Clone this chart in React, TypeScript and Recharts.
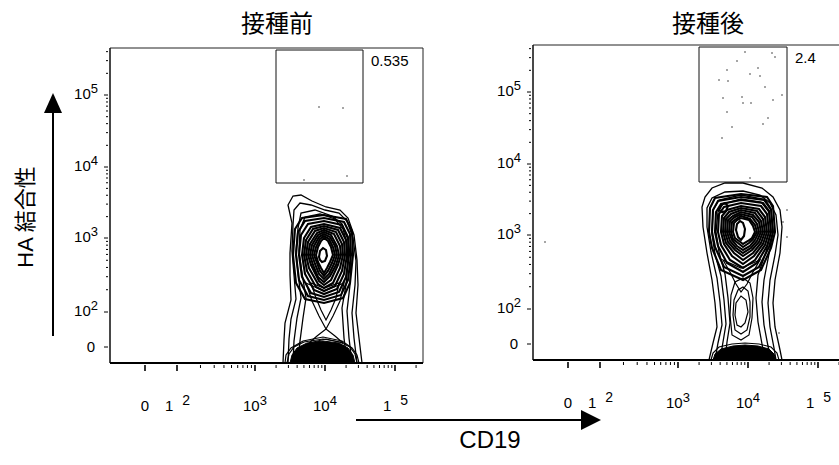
import { ScatterChart, Scatter, XAxis, YAxis, ReferenceArea } from "recharts";

// display channels (biexponential axis, 0..313 wide / 0..315 tall)
const X_DOMAIN = [0, 313];
const Y_DOMAIN = [0, 315];

const panelTitles = ["接種前", "接種後"];
const gatePercents = ["0.535", "2.4"];

// gate rectangles: [x1, x2, y1, y2]
const preGate = [166, 253, 180, 313];
const postGate = [166, 254, 178, 313];

const xMajorTicks = [35, 67, 145, 215, 285];
const xTickBase = ["0", "1", "10", "10", "1"];
const xTickSup = ["", "2", "3", "4", "5"];
const yMajorTicks = [16, 51, 125, 196, 268];
const yTickBase = ["0", "10", "10", "10", "10"];
const yTickSup = ["", "2", "3", "4", "5"];

// 接種前 contours
const preEnvelope = [
  [[173,0],[174,23],[175,40],[181,63],[180,88],[180,110],[182,140],[178,158],[183,167],[191,168],[202,162],[216,156],[230,153],[238,145],[244,128],[247,103],[248,78],[246,50],[249,25],[252,0]],
  [[178,0],[179,24],[181,44],[186,64],[184,88],[182,112],[183,138],[184,153],[190,160],[201,158],[215,153],[229,150],[237,142],[243,125],[246,102],[245,78],[242,50],[244,25],[247,0]],
  [[183,0],[184,22],[187,45],[191,65],[188,90],[186,112],[188,135],[191,150],[205,153],[222,147],[232,139],[238,123],[241,102],[240,78],[237,52],[239,25],[242,0]],
  [[188,0],[190,22],[193,45],[196,65],[192,90],[189,112],[190,133],[195,146],[210,149],[225,144],[233,134],[237,120],[238,100],[236,78],[232,55],[234,25],[237,0]],
];
const preCore = [
  [[183,108],[185,134],[192,145],[214,148],[236,144],[242,132],[243,108],[240,80],[233,65],[214,60],[195,64],[186,80]],
  [[186,108],[188,131],[195,142],[214,145],[234,141],[240,129],[241,108],[238,83],[231,68],[214,63],[198,67],[189,83]],
  [[189,108],[191,128],[198,139],[214,142],[232,138],[238,126],[239,108],[236,86],[229,71],[214,66],[201,70],[192,86]],
  [[192,108],[194,125],[201,136],[214,139],[230,135],[236,123],[237,108],[234,89],[227,74],[214,69],[204,73],[195,89]],
  [[194,108],[196,123],[203,134],[214,137],[228,133],[234,121],[235,108],[232,92],[225,77],[214,72],[206,76],[197,92]],
  [[196,108],[198,121],[205,132],[214,135],[226,131],[232,119],[233,108],[230,95],[223,80],[214,75],[208,79],[199,95]],
  [[198,108],[200,119],[207,130],[214,133],[224,129],[230,117],[231,108],[228,98],[221,83],[214,78],[209,82],[201,98]],
  [[200,108],[202,118],[208,128],[214,131],[221,128],[227,117],[229,108],[226,98],[220,87],[214,81],[208,86],[203,98]],
  [[202,108],[204,117],[209,126],[214,129],[220,126],[225,117],[227,108],[224,99],[219,89],[214,84],[209,89],[205,99]],
  [[204,108],[206,116],[210,124],[214,127],[219,124],[223,116],[225,108],[222,100],[218,92],[214,87],[210,92],[207,100]],
  [[206,108],[208,116],[211,122],[214,125],[218,122],[221,116],[223,108],[220,101],[217,95],[214,90],[211,95],[208,101]],
  [[209,106],[210,112],[213,115],[216,113],[217,107],[215,102],[212,101],[210,103]],
];
const preStalk = [
  [[196,80],[202,62],[209,47],[216,34],[223,47],[230,62],[234,80],[214,72]],
  [[201,80],[206,65],[211,53],[216,43],[221,53],[226,65],[229,80],[214,75]],
  [[199,20],[207,27],[216,34],[225,27],[233,20],[216,24]],
];
const preBaseRings = [
  [[177,0],[179,9],[184,16],[194,21],[213,24],[230,21],[240,16],[245,9],[247,0]],
  [[175,0],[176,8],[181,15],[193,22],[213,26],[232,22],[242,15],[247,8],[249,0]],
];
const preBaseCore = [
  [[180,0],[182,8],[187,15],[197,20],[213,22],[229,20],[238,15],[243,8],[245,0]],
];
const preEvents = [[209,256],[233,255],[194,183],[237,187]];

// 接種後 contours
const postEnvelope = [
  [[176,0],[180,17],[184,33],[182,57],[179,80],[174,107],[170,133],[169,153],[172,163],[179,172],[192,177],[210,177],[229,172],[240,163],[247,150],[249,133],[247,107],[242,80],[240,57],[242,33],[247,10],[249,0]],
  [[182,0],[185,17],[189,35],[187,58],[184,82],[178,108],[174,133],[174,152],[179,162],[192,168],[210,169],[227,165],[237,157],[243,145],[245,125],[242,105],[237,80],[235,57],[237,33],[241,12],[243,0]],
];
const postSides = [
  [[187,0],[190,18],[193,36],[191,60],[188,84],[182,106],[179,126],[180,150],[186,160],[208,165],[230,161],[238,150],[240,128],[236,106],[231,80],[229,58],[231,35],[235,14],[238,0]],
  [[192,0],[194,18],[197,37],[195,62],[192,86],[186,108],[183,128],[185,148],[190,156],[208,161],[228,158],[236,148],[238,128],[233,108],[225,85],[223,62],[225,38],[229,16],[232,0]],
];
const postCore = [
  [[176,128],[177,152],[182,162],[208,166],[234,163],[240,154],[242,128],[238,112],[228,90],[210,80],[188,90],[179,112]],
  [[179,128],[180,150],[185,159],[208,163],[232,160],[238,151],[240,128],[236,113],[226,93],[210,84],[191,93],[182,113]],
  [[182,128],[183,148],[188,156],[208,160],[230,157],[236,149],[238,128],[234,114],[224,97],[210,88],[194,97],[185,114]],
  [[185,128],[186,146],[191,153],[208,157],[228,154],[234,146],[236,128],[232,115],[222,100],[210,92],[197,100],[188,115]],
  [[188,128],[189,144],[194,150],[208,154],[226,151],[232,143],[234,128],[230,116],[221,104],[210,96],[199,104],[191,116]],
  [[190,128],[191,142],[196,148],[208,152],[224,149],[230,141],[232,128],[228,117],[220,107],[210,100],[201,107],[193,117]],
  [[192,128],[193,141],[198,146],[208,150],[222,147],[228,139],[230,128],[226,118],[219,110],[210,104],[202,110],[195,118]],
  [[194,128],[195,140],[200,144],[208,148],[220,145],[226,138],[228,128],[224,119],[218,112],[210,107],[203,112],[197,119]],
  [[196,128],[197,139],[202,143],[208,146],[219,143],[224,136],[226,128],[222,120],[217,114],[210,110],[204,114],[199,120]],
  [[198,128],[199,138],[203,141],[208,144],[217,141],[222,135],[224,128],[220,121],[216,117],[210,113],[205,117],[200,121]],
  [[200,128],[201,137],[204,140],[208,142],[216,140],[220,134],[222,128],[219,122],[215,119],[210,116],[206,119],[202,122]],
  [[203,130],[204,136],[207,139],[210,137],[212,131],[211,124],[208,120],[205,123]],
  [[186,150],[188,155],[192,157],[195,154],[193,149],[189,148]],
];
const postStalk = [
  [[190,100],[197,88],[203,76],[208,68],[214,76],[220,88],[227,100],[208,92]],
  [[199,25],[197,45],[198,65],[202,78],[210,82],[217,77],[220,62],[219,42],[216,25],[208,20]],
  [[202,30],[200,45],[201,60],[205,70],[210,73],[215,69],[217,58],[217,43],[214,30],[208,26]],
  [[204,35],[202,45],[203,57],[208,64],[213,60],[215,48],[212,37],[208,33]],
];
const postBaseRings = [
  [[178,0],[180,7],[186,13],[199,16],[212,17],[226,16],[238,13],[244,7],[246,0]],
];
const postBaseCore = [
  [[180,0],[182,6],[188,11],[200,14],[212,15],[225,14],[236,11],[241,6],[243,0]],
];
const postEvents = [
  [212,308],[239,307],[204,299],[242,303],[194,290],[217,286],[225,292],[227,284],
  [186,280],[195,279],[232,273],[190,262],[209,263],[210,257],[218,257],[240,260],
  [249,265],[235,242],[230,236],[199,233],[189,222],[217,182],[194,248],
  [254,150],[254,123],[246,27],[250,138],[12,118],
];

const LOG_STEPS = [2, 3, 4, 5, 6, 7, 8, 9];
function withMinor(majors: number[], max: number) {
  const out = [...majors];
  for (let i = 1; i < majors.length; i++) {
    const a = majors[i];
    const b = i + 1 < majors.length ? majors[i + 1] : a + (a - majors[i - 1]);
    LOG_STEPS.forEach((m) => {
      const v = a + Math.log10(m) * (b - a);
      if (v < max) out.push(v);
    });
  }
  return out.sort((p, q) => p - q);
}
const xTicks = withMinor(xMajorTicks, X_DOMAIN[1]);
const yTicks = withMinor(yMajorTicks, Y_DOMAIN[1]);

const SANS = "'Liberation Sans', Arial, sans-serif";
const CJK = "'Noto Sans CJK JP', sans-serif";

function XTick({ x, y, payload }: any) {
  const i = xMajorTicks.indexOf(payload.value);
  const major = i >= 0;
  let label = null;
  if (major) {
    const base = xTickBase[i];
    const sup = xTickSup[i];
    if (!sup) {
      label = <text x={x} y={y + 46} textAnchor="middle" fontSize={15} fontFamily={SANS}>{base}</text>;
    } else if (base === "1") {
      label = (
        <text x={x - 12} y={y + 46} fontSize={15} fontFamily={SANS}>
          1<tspan dx={9} dy={-6} fontSize={14}>{sup}</tspan>
        </text>
      );
    } else {
      label = (
        <text x={x} y={y + 46} textAnchor="middle" fontSize={15} fontFamily={SANS}>
          10<tspan dy={-6} fontSize={13}>{sup}</tspan>
        </text>
      );
    }
  }
  return (
    <g>
      <line x1={x} x2={x} y1={y} y2={y + (major ? 6 : 3)} stroke="#000" strokeWidth={major ? 1.6 : 1} />
      {label}
    </g>
  );
}

function YTick({ x, y, payload }: any) {
  const i = yMajorTicks.indexOf(payload.value);
  const major = i >= 0;
  let label = null;
  if (major) {
    const sup = yTickSup[i];
    label = sup ? (
      <text x={x - 10} y={y + 4} textAnchor="end" fontSize={15} fontFamily={SANS}>
        {yTickBase[i]}<tspan dy={-6} fontSize={13}>{sup}</tspan>
      </text>
    ) : (
      <text x={x - 13} y={y + 5} textAnchor="end" fontSize={15} fontFamily={SANS}>{yTickBase[i]}</text>
    );
  }
  return (
    <g>
      <line x1={x} x2={x - (major ? 4 : 2)} y1={y} y2={y} stroke="#000" strokeWidth={1} />
      {label}
    </g>
  );
}

const NoDot = () => <g />;
const EventDot = (p: any) => <circle cx={p.cx} cy={p.cy} r={0.75} fill="#222" />;

const pts = (c: number[][]) => c.map(([x, y]) => ({ x, y }));

type Layer = { rings: number[][][]; width: number; filled?: boolean };

type PanelProps = {
  width: number;
  margin: { top: number; right: number; bottom: number; left: number };
  layers: Layer[];
  events: number[][];
  gate: number[];
  percent: string;
};

function Panel({ width, margin, layers, events, gate, percent }: PanelProps) {
  return (
    <div style={{ position: "absolute", left: 0, top: 0 }}>
      <ScatterChart width={width} height={465} margin={margin}>
        <XAxis
          type="number"
          dataKey="x"
          domain={X_DOMAIN}
          ticks={xTicks}
          interval={0}
          tick={XTick}
          tickLine={false}
          tickSize={0}
          axisLine={{ stroke: "#000", strokeWidth: 2 }}
          height={60}
          allowDataOverflow
        />
        <YAxis
          type="number"
          dataKey="y"
          domain={Y_DOMAIN}
          ticks={yTicks}
          interval={0}
          tick={YTick}
          tickLine={false}
          tickSize={0}
          axisLine={{ stroke: "#000", strokeWidth: 1 }}
          width={110}
          allowDataOverflow
        />
        <ReferenceArea x1={X_DOMAIN[0]} x2={X_DOMAIN[1]} y1={Y_DOMAIN[0]} y2={Y_DOMAIN[1]} fill="none" stroke="#222" strokeWidth={1} />
        <ReferenceArea
          x1={gate[0]}
          x2={gate[1]}
          y1={gate[2]}
          y2={gate[3]}
          fill="none"
          stroke="#111"
          strokeWidth={1}
          label={{
            content: (p: any) => (
              <text x={p.viewBox.x + p.viewBox.width + 8} y={p.viewBox.y + 16} fontSize={15} fontFamily={SANS}>
                {percent}
              </text>
            ),
          }}
        />
        {layers.map((layer, li) =>
          layer.rings.map((c, i) => (
            <Scatter
              key={`${li}-${i}`}
              data={pts(c)}
              fill="#000"
              line={
                layer.filled
                  ? { stroke: "#000", strokeWidth: layer.width, fill: "#000" }
                  : { stroke: "#000", strokeWidth: layer.width }
              }
              lineJointType="linearClosed"
              shape={NoDot}
              isAnimationActive={false}
            />
          ))
        )}
        <Scatter data={pts(events)} fill="#000" shape={EventDot} isAnimationActive={false} />
      </ScatterChart>
    </div>
  );
}

export default function App() {
  return (
    <div style={{ position: "absolute", left: 0, top: 0, width: 839, height: 465, overflow: "hidden", background: "#fff" }}>
      <Panel
        width={839}
        margin={{ top: 48, right: 416, bottom: 42, left: 0 }}
        layers={[
          { rings: preEnvelope, width: 1.3 },
          { rings: preStalk, width: 1.2 },
          { rings: preCore, width: 2.1 },
          { rings: preBaseRings, width: 1.2 },
          { rings: preBaseCore, width: 1, filled: true },
        ]}
        events={preEvents}
        gate={preGate}
        percent={gatePercents[0]}
      />
      <Panel
        width={860}
        margin={{ top: 45, right: 14, bottom: 45, left: 423 }}
        layers={[
          { rings: postEnvelope, width: 1.3 },
          { rings: postSides, width: 1.3 },
          { rings: postStalk, width: 1.2 },
          { rings: postCore, width: 2.1 },
          { rings: postBaseRings, width: 1.2 },
          { rings: postBaseCore, width: 1, filled: true },
        ]}
        events={postEvents}
        gate={postGate}
        percent={gatePercents[1]}
      />
      <svg width={839} height={465} style={{ position: "absolute", left: 0, top: 0, pointerEvents: "none" }}>
        <text x={277} y={32} textAnchor="middle" fontSize={24} fontFamily={CJK}>{panelTitles[0]}</text>
        <text x={708} y={32} textAnchor="middle" fontSize={24} fontFamily={CJK}>{panelTitles[1]}</text>
        <text transform="translate(33,217) rotate(-90)" textAnchor="middle" fontSize={22}>
          <tspan fontFamily={SANS}>HA </tspan>
          <tspan fontFamily={CJK}>結合性</tspan>
        </text>
        <line x1={53} y1={336} x2={53} y2={110} stroke="#000" strokeWidth={2} />
        <polygon points="53,93 44,113 62,113" fill="#000" />
        <line x1={356} y1={420} x2={584} y2={420} stroke="#000" strokeWidth={2} />
        <polygon points="601,420 581,410 581,430" fill="#000" />
        <text x={490} y={448} textAnchor="middle" fontSize={24} fontFamily={SANS}>CD19</text>
      </svg>
    </div>
  );
}
